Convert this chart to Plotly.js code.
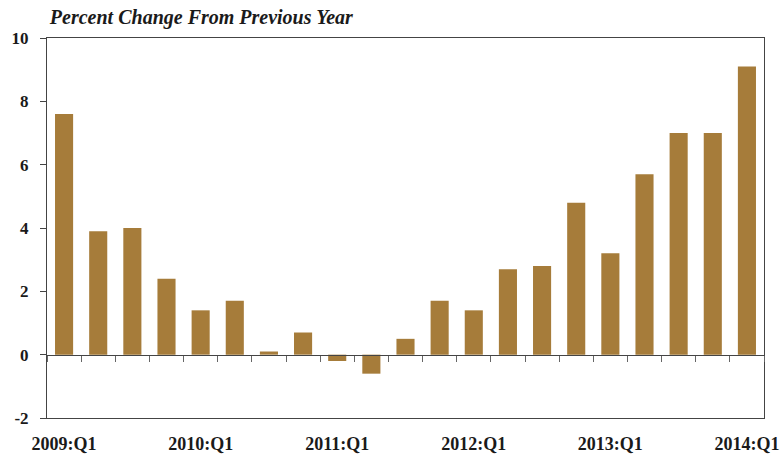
<!DOCTYPE html>
<html>
<head>
<meta charset="utf-8">
<script src="https://cdn.plot.ly/plotly-3.0.1.min.js"></script>
<style>html,body{margin:0;padding:0;background:#fff;}#chart{width:782px;height:454px;}</style>
</head>
<body>
<div id="chart"></div>
<script>
const quarters = ["2009:Q1","2009:Q2","2009:Q3","2009:Q4","2010:Q1","2010:Q2","2010:Q3","2010:Q4","2011:Q1","2011:Q2","2011:Q3","2011:Q4","2012:Q1","2012:Q2","2012:Q3","2012:Q4","2013:Q1","2013:Q2","2013:Q3","2013:Q4","2014:Q1"];
const values = [7.6, 3.9, 4.0, 2.4, 1.4, 1.7, 0.1, 0.7, -0.2, -0.6, 0.5, 1.7, 1.4, 2.7, 2.8, 4.8, 3.2, 5.7, 7.0, 7.0, 9.1];
const labelQuarters = ["2009:Q1","2010:Q1","2011:Q1","2012:Q1","2013:Q1","2014:Q1"];
const yTicks = [-2, 0, 2, 4, 6, 8, 10];
const titleText = "Percent Change From Previous Year";

const font = "Liberation Serif, Times New Roman, serif";
const traces = [
  {type:"bar", x:quarters, y:values, marker:{color:"#A67C3A"}, xaxis:"x", yaxis:"y", hoverinfo:"x+y"},
  {type:"bar", x:quarters, y:values, marker:{color:"rgba(0,0,0,0)"}, xaxis:"x2", yaxis:"y", hoverinfo:"skip", showlegend:false}
];
const layout = {
  width:782, height:454,
  margin:{l:47, r:18, t:38, b:36},
  paper_bgcolor:"#fff", plot_bgcolor:"#fff",
  showlegend:false,
  bargap:0.47,
  barmode:"overlay",
  title:{text:"<b><i>"+titleText+"</i></b>", x:0.004, xref:"paper", xanchor:"left", y:0.962, yanchor:"middle",
         font:{family:font, size:20, color:"#1a1a1a"}},
  xaxis:{type:"category", categoryorder:"array", categoryarray:quarters,
         tickmode:"array", tickvals:labelQuarters, ticktext:labelQuarters.map(s=>"<b>"+s+"</b>"),
         showline:true, linecolor:"#444", linewidth:1, mirror:true, ticks:"", showgrid:false, zeroline:false,
         ticklabelstandoff:9,
         tickfont:{family:font, size:18, color:"#1a1a1a"}, range:[-0.5, 20.5]},
  xaxis2:{type:"category", overlaying:"x", matches:"x", anchor:"free", position:1/6,
         showline:true, linecolor:"#444", linewidth:1, ticks:"outside", tickson:"boundaries",
         ticklen:6, tickcolor:"#666", showticklabels:false, showgrid:false, zeroline:false},
  yaxis:{range:[-2,10], tickmode:"array", tickvals:yTicks, ticktext:yTicks.map(v=>"<b>"+v+"</b>"),
         showline:true, linecolor:"#444", linewidth:1, mirror:true, ticks:"outside", ticklen:6, tickcolor:"#444",
         showgrid:false, zeroline:false, ticklabelstandoff:8,
         tickfont:{family:font, size:17, color:"#1a1a1a"}}
};
Plotly.newPlot("chart", traces, layout, {staticPlot:true, displayModeBar:false});
</script>
</body>
</html>
